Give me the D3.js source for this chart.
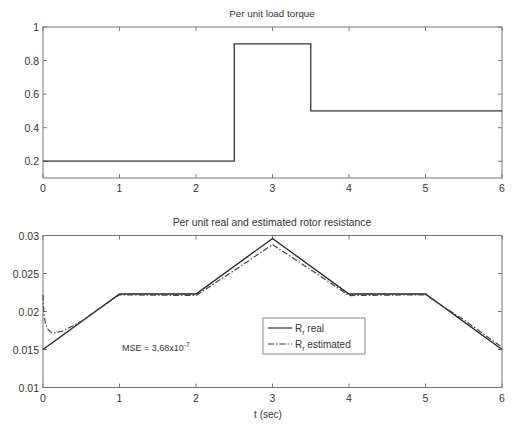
<!DOCTYPE html>
<html>
<head>
<meta charset="utf-8">
<script src="https://cdn.jsdelivr.net/npm/d3@7"></script>
<style>
  body { margin: 0; background: #fff; }
  text { font-family: "Liberation Sans", Arial, sans-serif; fill: #333; }
</style>
</head>
<body>
<script>
// load torque (step profile)
const torqueT = [0, 2.5, 2.5, 3.5, 3.5, 6];
const torqueV = [0.2, 0.2, 0.9, 0.9, 0.5, 0.5];

// rotor resistance, real
const realT = [0, 1, 2, 3, 4, 5, 6];
const realV = [0.015, 0.0223, 0.0223, 0.0296, 0.0223, 0.0223, 0.015];

// rotor resistance, estimated
const estT = [0, 0.01, 0.03, 0.06, 0.1, 0.15, 0.25, 0.5, 0.75, 1, 2, 2.5, 3, 3.5, 4, 5, 5.5, 6];
const estV = [0.0222, 0.0200, 0.0185, 0.0177, 0.0173, 0.0172, 0.0174, 0.0187, 0.0205, 0.0222,
              0.0221, 0.0254, 0.0288, 0.0255, 0.0221, 0.0222, 0.0189, 0.0153];

const xTicks = [0, 1, 2, 3, 4, 5, 6];
const topTicks = [0.2, 0.4, 0.6, 0.8, 1];
const botTicks = [0.01, 0.015, 0.02, 0.025, 0.03];

const svg = d3.select('body').append('svg')
    .attr('width', 513).attr('height', 424);

const x = d3.scaleLinear().domain([0, 6]).range([43, 502]);

function panel(y, ticks, fmt, title, titleY, titleSize) {
  const g = svg.append('g');
  const y0 = y.range()[0], y1 = y.range()[1];
  // box
  g.append('rect')
    .attr('x', 43).attr('y', y1)
    .attr('width', 459).attr('height', y0 - y1)
    .attr('fill', 'none').attr('stroke', '#777').attr('stroke-width', 1);
  // x ticks inside bottom and top
  g.selectAll('.xt').data(xTicks).enter().append('path')
    .attr('d', d => `M${x(d)},${y0}v-4M${x(d)},${y1}v4`)
    .attr('stroke', '#777');
  g.selectAll('.xl').data(xTicks).enter().append('text')
    .attr('x', d => x(d)).attr('y', y0 + 14)
    .attr('text-anchor', 'middle').attr('font-size', 10.5)
    .text(d => d);
  // y ticks left and right
  g.selectAll('.yt').data(ticks).enter().append('path')
    .attr('d', d => `M43,${y(d)}h4M502,${y(d)}h-4`)
    .attr('stroke', '#777');
  g.selectAll('.yl').data(ticks).enter().append('text')
    .attr('x', 39).attr('y', d => y(d) + 4)
    .attr('text-anchor', 'end').attr('font-size', 10.5)
    .text(fmt);
  g.append('text')
    .attr('x', 272).attr('y', titleY)
    .attr('text-anchor', 'middle').attr('font-size', titleSize)
    .text(title);
  return g;
}

// top plot
const yTop = d3.scaleLinear().domain([0.1, 1]).range([178, 27]);
panel(yTop, topTicks, d => d === 1 ? '1' : d3.format('.1f')(d), 'Per unit load torque', 17, 9.8);

const lineTop = d3.line().x(d => x(d[0])).y(d => yTop(d[1]));
svg.append('path')
  .datum(d3.zip(torqueT, torqueV))
  .attr('d', lineTop)
  .attr('fill', 'none').attr('stroke', '#333').attr('stroke-width', 1.3);

// bottom plot
const yBot = d3.scaleLinear().domain([0.01, 0.03]).range([387.5, 235.5]);
panel(yBot, botTicks, d => d3.format('')(+d.toFixed(3)), 'Per unit real and estimated rotor resistance', 226, 10.4);

const lineBot = d3.line().x(d => x(d[0])).y(d => yBot(d[1]));
svg.append('path')
  .datum(d3.zip(realT, realV))
  .attr('d', lineBot)
  .attr('fill', 'none').attr('stroke', '#222').attr('stroke-width', 1.3);
svg.append('path')
  .datum(d3.zip(estT, estV))
  .attr('d', lineBot)
  .attr('fill', 'none').attr('stroke', '#444').attr('stroke-width', 1.2)
  .attr('stroke-dasharray', '6,2,1.5,2');

// MSE annotation
const mse = svg.append('text').attr('x', 122).attr('y', 351).attr('font-size', 9);
mse.append('tspan').text('MSE = 3,68x10');
mse.append('tspan').attr('dy', -4).attr('font-size', 6.5).text('-7');

// axis label
svg.append('text')
  .attr('x', 268).attr('y', 418)
  .attr('text-anchor', 'middle').attr('font-size', 10)
  .text('t (sec)');

// legend
const leg = svg.append('g');
leg.append('rect')
  .attr('x', 263).attr('y', 318).attr('width', 102).attr('height', 36)
  .attr('fill', '#fff').attr('stroke', '#888');
const items = [
  { label: 'real', dash: null },
  { label: ' estimated', dash: '6,2,1.5,2' }
];
items.forEach((it, i) => {
  const ly = 328 + i * 16;
  leg.append('line')
    .attr('x1', 268).attr('x2', 292).attr('y1', ly).attr('y2', ly)
    .attr('stroke', '#333').attr('stroke-width', 1.2)
    .attr('stroke-dasharray', it.dash);
  const t = leg.append('text').attr('x', 295).attr('y', ly + 4).attr('font-size', 10);
  t.append('tspan').text('R');
  t.append('tspan').attr('dy', 3).attr('font-size', 7).text('r');
  t.append('tspan').attr('dy', -3).text(' ' + it.label);
});
</script>
</body>
</html>
